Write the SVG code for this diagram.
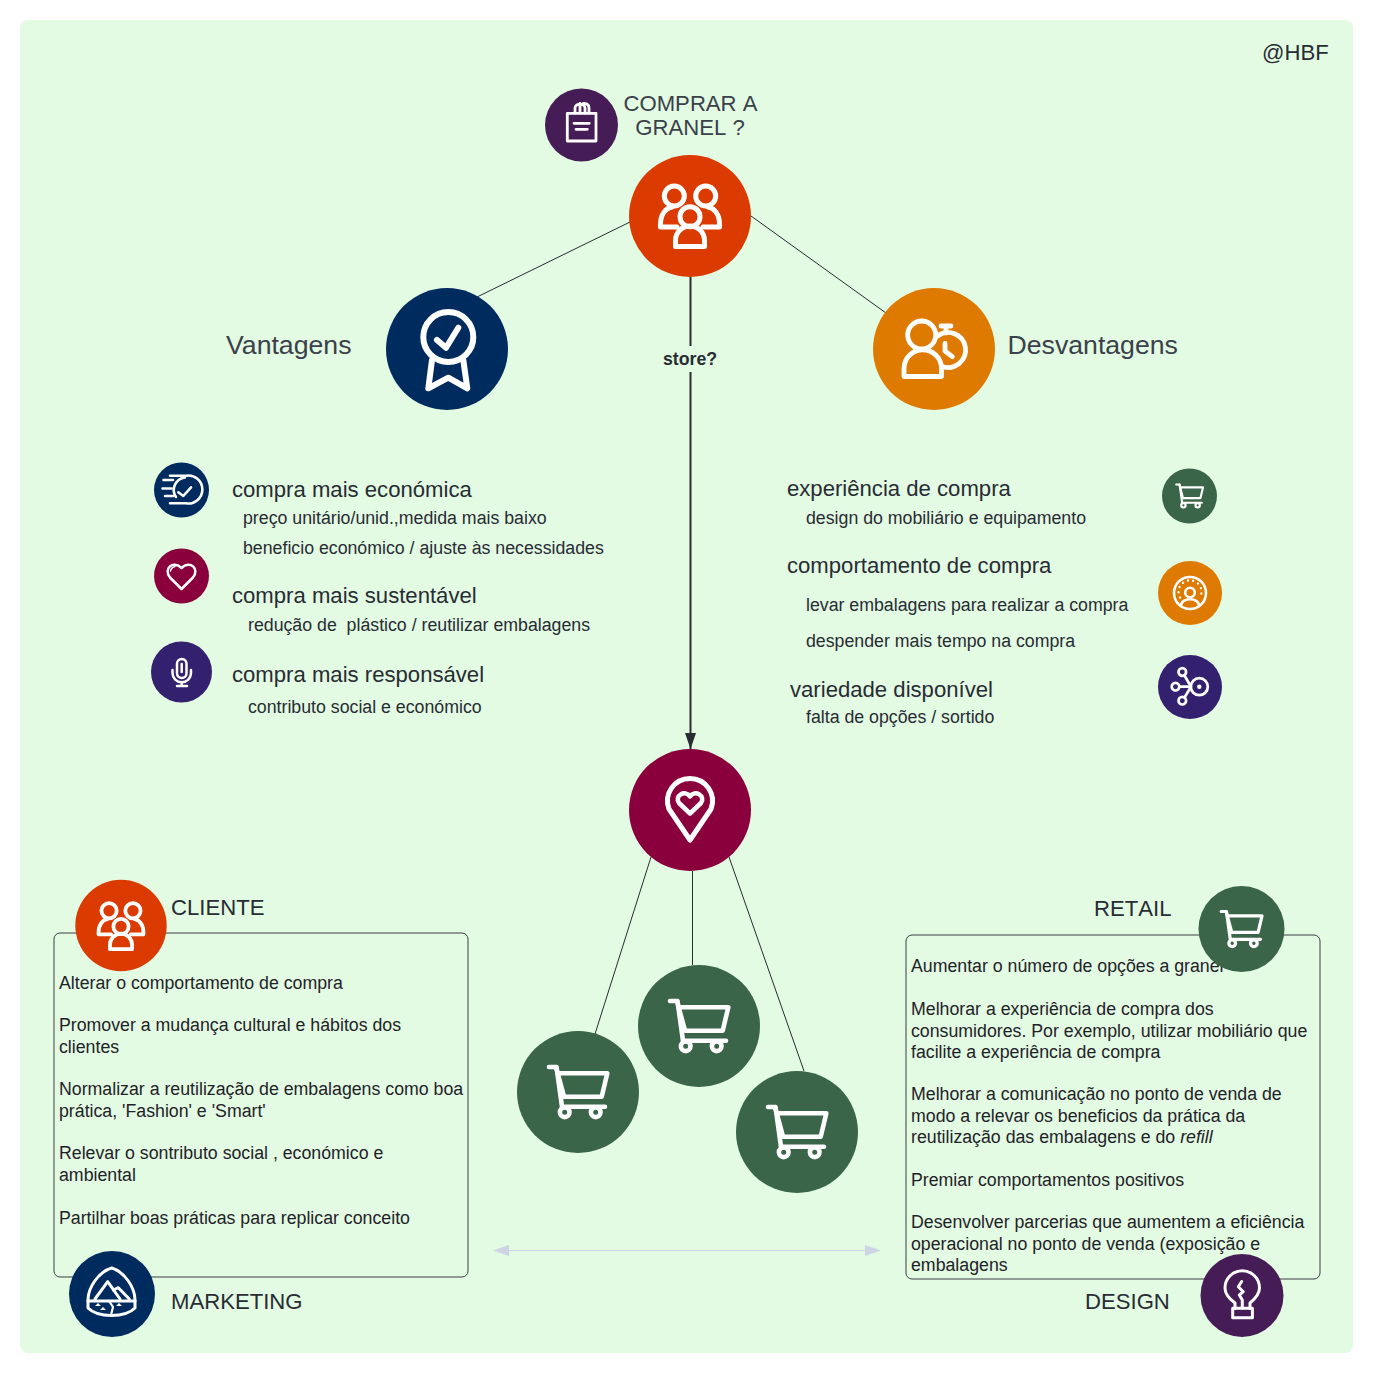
<svg xmlns="http://www.w3.org/2000/svg" width="1373" height="1373" viewBox="0 0 1373 1373">
<style>
text{font-family:"Liberation Sans",Arial,sans-serif;fill:#282c33;font-kerning:none}
.h1{font-size:22.13px;fill:#3a414a}
.h2{font-size:26.67px;fill:#3a414a;font-kerning:normal}
.h3{font-size:22.13px}
.s{font-size:17.74px}
.b{font-size:17.74px;fill:#1f2328}
.t{font-size:22.13px}
.ic{fill:none;stroke:#fff;stroke-linecap:round;stroke-linejoin:round}
.w{fill:#fff;stroke:none}
.c{fill:none;stroke:#282c33;stroke-width:1}
.box{fill:none;stroke:#3a3f44;stroke-width:1}
</style>
<defs>
<g id="cart" class="ic" stroke-width="4.600"><path d="M-29,-25H-22L-14,4.700H23.700L29.300,-18.700H-20.500"/><path d="M-21.500,-25L-16,14.700H27"/><circle cx="-13.300" cy="20.300" r="4.800"/><circle cx="17.700" cy="20.300" r="4.800"/></g>
<g id="people" class="ic" stroke-width="5"><circle cx="-15.700" cy="-20" r="10"/><circle cx="15.700" cy="-20" r="10"/><circle cx="0" cy="0.700" r="10"/><path d="M-14.500,30.500V24.500A14.500,14.500 0 0 1 14.500,24.500V30.500Z"/><path d="M-13,11H-29.500V8C-29.500,-2 -24,-8 -18,-9"/><path d="M13,11H29.500V8C29.500,-2 24,-8 18,-9"/></g>
<marker id="ah" markerUnits="userSpaceOnUse" markerWidth="17" markerHeight="12" refX="16" refY="5.500" orient="auto"><path d="M0,0L16,5.500L0,11Z" fill="#282c33"/></marker>
<marker id="ad" markerUnits="userSpaceOnUse" markerWidth="17" markerHeight="12" refX="0" refY="5.500" orient="auto-start-reverse"><path d="M0,0L16,5.500L0,11Z" fill="#ced4e4"/></marker>
</defs>
<rect width="1373" height="1373" fill="#fff"/>
<rect x="20" y="20" width="1333" height="1333" rx="8" fill="#e3fae3"/>

<g id="connectors">
<path class="c" d="M630,222L477,297"/>
<path class="c" d="M751,216L886,313"/>
<path d="M690.500,277V749" fill="none" stroke="#282c33" stroke-width="2" marker-end="url(#ah)"/>
<rect x="660" y="346" width="60" height="26" fill="#e3fae3"/>
<text x="690" y="365" text-anchor="middle" font-size="17.740" font-weight="700" style="fill:#282c33">store?</text>
<path class="c" d="M651,857L595,1034"/>
<path class="c" d="M692.500,871V965"/>
<path class="c" d="M729,857L804,1071"/>
<path d="M509,1250.500H865" fill="none" stroke="#ced4e4" stroke-width="1" marker-start="url(#ad)" marker-end="url(#ad)"/>
</g>

<g id="note"><text x="1262" y="60" font-size="22.130">@HBF</text></g>

<g id="comprar">
<circle cx="581.500" cy="125" r="36.500" fill="#461c56"/>
<g class="ic" stroke-width="2.800"><rect x="567.300" y="113.300" width="28.700" height="27.700"/><path d="M575,113V108C575,103 585,103 585,108V113M580,103.500V113M589,113V108C589,104 585,103 583,103.500"/><path d="M574,123.300H589.300M576,129.300H587.300"/></g>
<text class="h1" x="690.500" y="111" text-anchor="middle">COMPRAR A</text>
<text class="h1" x="690" y="135" text-anchor="middle">GRANEL ?</text>
</g>

<g id="root"><circle cx="690" cy="216" r="61" fill="#db3b00"/><use href="#people" transform="translate(690,216)"/></g>

<g id="vantagens">
<circle cx="447" cy="349" r="61" fill="#002b5f"/>
<g class="ic" stroke-width="6"><circle cx="448.300" cy="337" r="25"/><path d="M437,340L446,347.700L458.300,327.700"/><path d="M432,360L428.300,388.300L448.300,377.700L467.300,388.300L463.300,360"/></g>
<text class="h2" x="226" y="354">Vantagens</text>
</g>

<g id="desvantagens">
<circle cx="934" cy="349" r="61" fill="#de7a00"/>
<g class="ic" stroke-width="4.800" transform="translate(934,349)"><circle cx="-12.300" cy="-14" r="14"/><path d="M-30,27.500V19.500A18.750,18.750 0 0 1 7.500,19.500V27.500Z"/><path d="M3.500,-13A17.500,17.500 0 1 1 8.300,17.500"/><path d="M7,-23H17M12,-23V-16"/><path d="M11,-5.700V2L18.300,7.700"/></g>
<text class="h2" x="1007.500" y="354">Desvantagens</text>
</g>

<g id="v1">
<circle cx="181.500" cy="490" r="27.500" fill="#002b5f"/>
<g class="ic" stroke-width="2.600"><path d="M170,475.700H186A14,14 0 1 1 186,503.300H170"/><path d="M163.500,480H173M162.500,488.500H171.500M165,496H173"/><path d="M178.300,492.300L183.300,496L191,487.300"/><path d="M185,477.500A12.500,12.500 0 0 0 176,497"/></g>
<text class="h3" x="232" y="497">compra mais económica</text>
<text class="s" x="243" y="524">preço unitário/unid.,medida mais baixo</text>
<text class="s" x="243" y="554">beneficio económico / ajuste às necessidades</text>
</g>
<g id="v2">
<circle cx="181.500" cy="576" r="27.500" fill="#8a003c"/>
<path class="ic" stroke-width="2.500" d="M181.500,589L170,577.500C163,569 173,559.500 181.500,568C190,559.500 200,569 193,577.500Z"/>
<path class="ic" stroke-width="1.500" d="M170.500,571C171,568 173,567 175,566.500"/>
<text class="h3" x="232" y="603">compra mais sustentável</text>
<text class="s" x="248" y="631" style="white-space:pre">redução de  plástico / reutilizar embalagens</text>
</g>
<g id="v3">
<circle cx="181.500" cy="672" r="30.500" fill="#33206f"/>
<g class="ic" stroke-width="2.500"><rect x="177" y="659" width="9.500" height="19" rx="4.750"/><path d="M181.700,664V672"/><path d="M172.500,670V673A9.200,9.200 0 0 0 191,673V670"/><path d="M181.700,682.500V686M177,686H187"/></g>
<text class="h3" x="232" y="682">compra mais responsável</text>
<text class="s" x="248" y="713">contributo social e económico</text>
</g>

<g id="d1">
<circle cx="1189.500" cy="496" r="27.500" fill="#3a6549"/>
<use href="#cart" transform="translate(1189.500,496) scale(.46)"/>
<text class="h3" x="787" y="496">experiência de compra</text>
<text class="s" x="806" y="524">design do mobiliário e equipamento</text>
</g>
<g id="d2">
<circle cx="1190" cy="593" r="32" fill="#de7a00"/>
<g class="ic" stroke-width="2.600"><circle cx="1190" cy="593" r="16"/><circle cx="1190" cy="592.500" r="4.800"/><path d="M1181,606C1181,597 1199,597 1199,606"/><path stroke-width="2.400" stroke-dasharray="0.100 5.300" d="M1180,597.500A11.500,11.500 0 1 1 1200,597.500"/></g>
<text class="h3" x="787" y="573">comportamento de compra</text>
<text class="s" x="806" y="611">levar embalagens para realizar a compra</text>
<text class="s" x="806" y="647">despender mais tempo na compra</text>
</g>
<g id="d3">
<circle cx="1190" cy="687" r="32" fill="#33206f"/>
<g class="ic" stroke-width="2.700"><circle cx="1199.300" cy="686.700" r="8.500"/><circle class="w" cx="1199.300" cy="686.700" r="2.200"/><circle cx="1182.300" cy="672" r="3.800"/><circle cx="1175.500" cy="686.700" r="3.800"/><circle cx="1182.300" cy="700.700" r="3.800"/><path d="M1184.500,675.500L1191,686.700L1184.500,697.500M1179.500,686.700H1191"/></g>
<text class="h3" x="790" y="697">variedade disponível</text>
<text class="s" x="806" y="723">falta de opções / sortido</text>
</g>

<g id="store">
<circle cx="690" cy="810" r="61" fill="#8a003c"/>
<g class="ic" stroke-width="5"><path d="M690,840L669,809A22.500,22.500 0 1 1 711,809Z"/><path d="M690,813.500L679,803C674,796 685,789 690,796.500C695,789 706,796 701,803Z" stroke-width="4.500"/></g>
</g>
<g id="cart1"><circle cx="578" cy="1092" r="61" fill="#3a6549"/><use href="#cart" transform="translate(578,1092)"/></g>
<g id="cart2"><circle cx="699" cy="1026" r="61" fill="#3a6549"/><use href="#cart" transform="translate(699,1026)"/></g>
<g id="cart3"><circle cx="797" cy="1132" r="61" fill="#3a6549"/><use href="#cart" transform="translate(797,1132)"/></g>

<g id="box-left">
<rect class="box" x="54" y="933" width="414" height="344" rx="6"/>
<text class="b"><tspan x="59" y="989">Alterar o comportamento de compra</tspan><tspan x="59" y="1031">Promover a mudança cultural e hábitos dos</tspan><tspan x="59" y="1053">clientes</tspan><tspan x="59" y="1095">Normalizar a reutilização de embalagens como boa</tspan><tspan x="59" y="1116.500">prática, 'Fashion' e 'Smart'</tspan><tspan x="59" y="1159">Relevar o sontributo social , económico e</tspan><tspan x="59" y="1181">ambiental</tspan><tspan x="59" y="1223.500">Partilhar boas práticas para replicar conceito</tspan></text>
</g>
<g id="cliente">
<circle cx="121" cy="925.500" r="45.700" fill="#db3b00"/><use href="#people" transform="translate(121,926) scale(.76)"/>
<text class="t" x="171" y="915">CLIENTE</text>
</g>
<g id="marketing">
<circle cx="112" cy="1294" r="43" fill="#002b5f"/>
<g class="ic" stroke-width="3"><path d="M111.700,1268C125,1272 135,1288 135,1300V1308C125,1318 98,1318 88,1308V1300C88,1288 98,1272 111.700,1268Z"/><path d="M88,1301H135"/><path d="M95,1299L107.700,1281.700L120,1299M113.300,1290L118.300,1287.700L129.300,1299"/><path d="M109,1301L113,1307L111,1315" stroke-width="2.200"/></g>
<path class="w" d="M95,1306l3,-3l3,3zM116,1306l3,-3l3,3zM100,1310l3,-3l3,3z"/>
<text class="t" x="171" y="1309">MARKETING</text>
</g>

<g id="box-right">
<rect class="box" x="906" y="935" width="414" height="344" rx="6"/>
<text class="b"><tspan x="911" y="972">Aumentar o número de opções a granel</tspan><tspan x="911" y="1015">Melhorar a experiência de compra dos</tspan><tspan x="911" y="1037">consumidores. Por exemplo, utilizar mobiliário que</tspan><tspan x="911" y="1058">facilite a experiência de compra</tspan><tspan x="911" y="1100">Melhorar a comunicação no ponto de venda de</tspan><tspan x="911" y="1122">modo a relevar os beneficios da prática da</tspan><tspan x="911" y="1143">reutilização das embalagens e do <tspan font-style="italic">refill</tspan></tspan><tspan x="911" y="1185.500">Premiar comportamentos positivos</tspan><tspan x="911" y="1227.500">Desenvolver parcerias que aumentem a eficiência</tspan><tspan x="911" y="1249.500">operacional no ponto de venda (exposição e</tspan><tspan x="911" y="1271">embalagens</tspan></text>
</g>
<g id="retail">
<circle cx="1241.500" cy="929" r="43" fill="#3a6549"/><use href="#cart" transform="translate(1241.500,929) scale(.7)"/>
<text class="t" x="1094" y="916">RETAIL</text>
</g>
<g id="design">
<circle cx="1242" cy="1295.500" r="41.500" fill="#461c56"/>
<g class="ic" stroke-width="3"><path d="M1235,1308.500V1303C1228,1298 1225,1293 1225,1288A17,17 0 0 1 1259.500,1288C1259.500,1293 1256,1298 1250,1303V1308.500"/><rect x="1232.700" y="1308.300" width="19.700" height="9.500"/><path d="M1241.700,1281.500L1238.300,1286.700L1243.300,1291.700L1239.300,1295L1242.300,1300V1308"/></g>
<text class="t" x="1085" y="1309">DESIGN</text>
</g>
</svg>
